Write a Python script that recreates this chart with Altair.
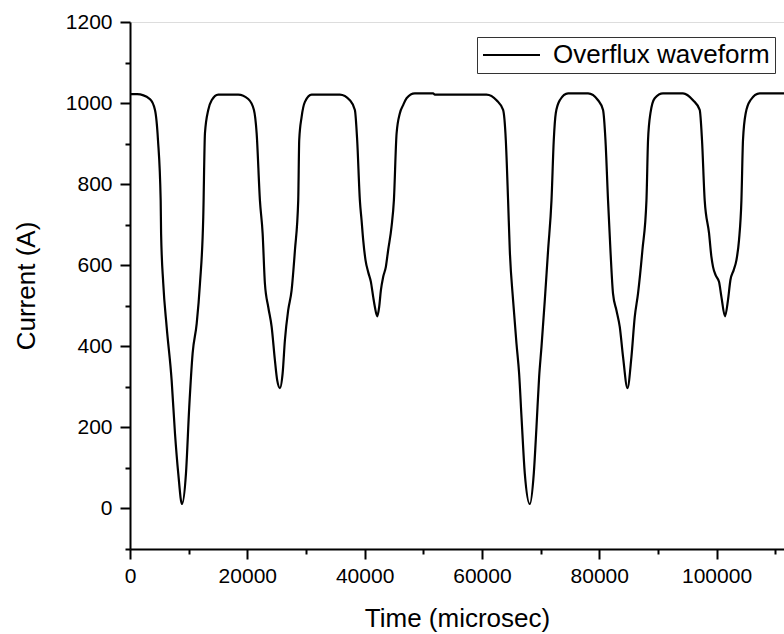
import altair as alt
import pandas as pd

# Time (microsec) and current (A)
times = [0, 1200, 3400, 4260, 4770, 5230, 5300, 5670, 6250, 7100, 7670, 8230, 8860, 9540, 10100, 10680,
         11370, 11930, 12490, 12780, 13340, 13920, 15050, 18450, 20160, 21130, 21590, 22150,
         22610, 23000, 23570, 24150, 24710, 25100, 25560, 26020, 26410, 26970, 27550, 28120, 28680,
         28850, 29260, 29820, 30960, 35780, 37490, 38340, 38730, 39190,
         39480, 39760, 40160, 40610, 41070, 41460, 41750, 42140, 42480, 42770, 43160, 43620, 44010,
         44590, 44990, 45450, 46010, 46570, 47150, 48560, 51680, 51970, 60780, 62490, 63610, 64070, 64460,
         64750, 65310, 65890, 66340, 66750, 67310, 68160, 68840, 69300, 69750, 70150, 70720, 71280,
         71860, 72250, 72590, 73270, 74690, 78090, 79800, 80650, 81060, 81500,
         81910, 82350, 82930, 83500, 84060, 84810, 85490, 86050, 86610, 87360, 88050, 88320, 88730,
         89460, 90870, 94280, 95990, 97130, 97520, 97980,
         98720, 99120, 99400, 99860, 100420, 100830, 101440, 101950, 102360, 102920, 103380, 103830,
         104240, 104510, 104970, 105770, 107350, 111500]

current = [1022, 1022, 1010, 983, 909, 760, 679, 555, 448, 316, 185, 86, 11, 86, 250, 383,
           456, 555, 719, 926, 983, 1007, 1021, 1021, 1010, 983, 926, 760,
           679, 555, 497, 448, 365, 316, 297, 333, 415, 489, 538, 637, 760,
           909, 966, 1003, 1021, 1021, 1007, 983, 909, 760,
           711, 662, 612, 583, 559, 522, 497, 474, 497, 538, 571, 596, 637,
           695, 760, 925, 975, 995, 1012, 1024, 1024, 1021, 1021, 1007, 983, 909, 760,
           637, 514, 407, 333, 225, 86, 11, 86, 201, 324, 398, 514, 637,
           760, 909, 975, 1007, 1024, 1024, 1007, 983, 909, 760,
           637, 530, 489, 448, 374, 297, 374, 472, 530, 637, 760, 909, 975,
           1012, 1024, 1024, 1007, 983, 909, 760,
           679, 621, 596, 575, 559, 522, 474, 514, 563, 588, 612, 662,
           760, 909, 975, 1007, 1024, 1024]

series_name = "Overflux waveform"

x_ticks = list(range(0, 110001, 10000))
y_ticks = list(range(-100, 1201, 100))

df = pd.DataFrame({"t": times, "i": current, "series": series_name})

FONT = "Liberation Sans"

x_axis = alt.Axis(
    values=x_ticks,
    labelExpr="datum.value % 20000 == 0 ? '' + datum.value : ''",
    tickSize={"condition": {"test": "datum.value % 20000 != 0", "value": 5}, "value": 10},
    tickWidth=2, tickColor="black",
    domainWidth=2, domainColor="black",
    grid=False,
    labelFont=FONT, labelFontSize=21, labelColor="black", labelPadding=6,
    labelFlush=False, labelOverlap=False,
    title="Time (microsec)", titleFont=FONT, titleFontSize=26, titleFontWeight="normal",
    titleColor="black", titlePadding=19,
)

y_axis = alt.Axis(
    values=y_ticks,
    labelExpr="datum.value % 200 == 0 ? '' + datum.value : ''",
    tickSize={"condition": {"test": "datum.value % 200 != 0", "value": 5}, "value": 10},
    tickWidth=2, tickColor="black",
    domainWidth=2, domainColor="black",
    grid=False,
    labelFont=FONT, labelFontSize=21, labelColor="black", labelPadding=8,
    labelFlush=False, labelOverlap=False,
    title="Current (A)", titleFont=FONT, titleFontSize=26, titleFontWeight="normal",
    titleColor="black", titlePadding=26,
)

chart = alt.Chart(df).mark_line(
    interpolate="monotone", strokeWidth=2.2, clip=True
).encode(
    x=alt.X("t:Q", scale=alt.Scale(domain=[0, 111500], nice=False, zero=False), axis=x_axis),
    y=alt.Y("i:Q", scale=alt.Scale(domain=[-100, 1200], nice=False, zero=False), axis=y_axis),
    color=alt.Color(
        "series:N",
        scale=alt.Scale(range=["black"]),
        legend=alt.Legend(
            orient="none", legendX=347, legendY=15, title=None,
            symbolType="stroke", symbolSize=3249, symbolStrokeWidth=2,
            symbolStrokeColor="black",
            clipHeight=26,
            labelFont=FONT, labelFontSize=26, labelColor="black",
            labelExpr="datum.label + '\u00a0\u00a0\u00a0'",
            labelLimit=500, labelOffset=12,
            padding=5, strokeColor="#333333", fillColor="white",
            cornerRadius=0,
        ),
    ),
).properties(
    width=654,
    height=527,
    autosize=alt.AutoSizeParams(type="none"),
    padding={"left": 130, "top": 22, "right": 0, "bottom": 85},
).configure_view(
    stroke=None
).configure(
    background="white"
)

chart.save("out.html", embed_options={"renderer": "svg", "actions": False})
